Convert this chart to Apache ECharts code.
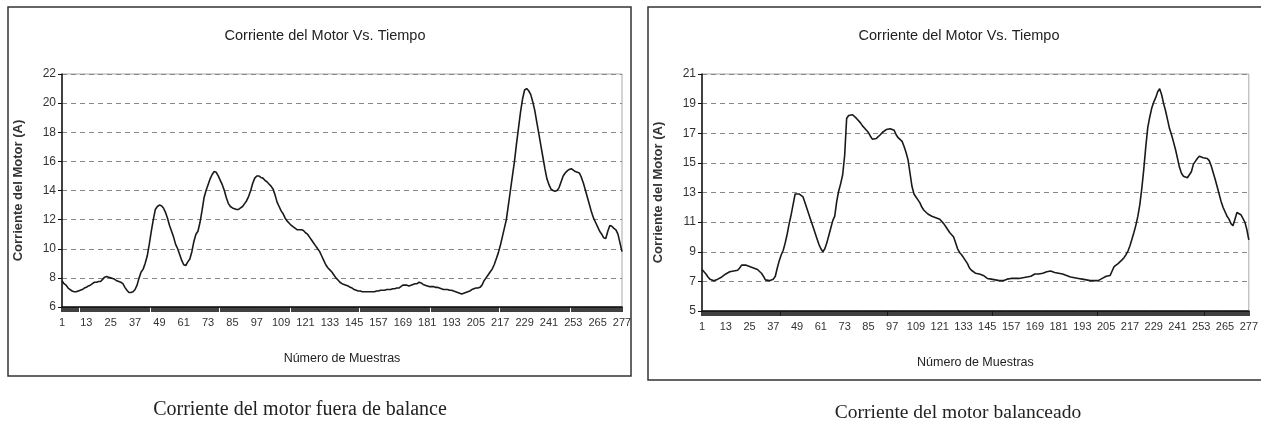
<!DOCTYPE html>
<html>
<head>
<meta charset="utf-8">
<script src="https://cdn.jsdelivr.net/npm/echarts@6/dist/echarts.min.js"></script>
<style>
html,body{margin:0;padding:0;background:#fff;}
#chart{width:1261px;height:427px;}
</style>
</head>
<body>
<div id="chart"></div>
<script>
// Sample numbers 1..277 (category labels)
const samples = [];
for (let i = 1; i <= 277; i++) samples.push(String(i));

const chartTitle = "Corriente del Motor Vs. Tiempo";
const xAxisName = "Número de Muestras";
const yAxisName = "Corriente del Motor (A)";
const captionLeft = "Corriente del motor fuera de balance";
const captionRight = "Corriente del motor balanceado";

// Motor current, unbalanced (A)
const currentUnbalanced = [
7.8,7.6,7.5,7.3,7.2,7.1,7.05,7.05,7.1,7.15,
7.2,7.3,7.35,7.45,7.5,7.6,7.7,7.7,7.75,7.75,
7.9,8.05,8.1,8.05,8.0,7.95,7.9,7.8,7.75,7.7,
7.6,7.35,7.15,7.0,7.0,7.05,7.2,7.5,8.0,8.4,
8.6,9.0,9.5,10.3,11.2,12.0,12.7,12.9,13.0,12.95,
12.8,12.5,12.1,11.6,11.2,10.8,10.3,10.0,9.6,9.2,
8.9,8.85,9.1,9.3,9.8,10.5,11.0,11.2,11.8,12.6,
13.5,14.0,14.4,14.8,15.1,15.3,15.25,15.0,14.7,14.4,
14.0,13.5,13.1,12.9,12.8,12.75,12.7,12.7,12.8,12.9,
13.1,13.3,13.6,14.0,14.5,14.85,15.0,15.0,14.9,14.85,
14.7,14.6,14.45,14.3,14.1,13.7,13.2,12.9,12.6,12.4,
12.1,11.9,11.75,11.6,11.5,11.4,11.3,11.3,11.3,11.25,
11.1,11.0,10.8,10.6,10.4,10.2,10.0,9.8,9.5,9.2,
8.9,8.7,8.55,8.4,8.2,8.0,7.85,7.7,7.6,7.55,
7.5,7.45,7.35,7.3,7.2,7.15,7.1,7.1,7.05,7.05,
7.05,7.05,7.05,7.05,7.05,7.1,7.1,7.15,7.15,7.15,
7.2,7.2,7.2,7.25,7.25,7.3,7.3,7.4,7.5,7.5,
7.5,7.45,7.5,7.55,7.6,7.6,7.7,7.65,7.55,7.5,
7.45,7.4,7.4,7.4,7.35,7.35,7.3,7.25,7.2,7.2,
7.2,7.15,7.15,7.1,7.05,7.0,6.95,6.9,6.95,7.0,
7.05,7.1,7.2,7.25,7.3,7.3,7.35,7.5,7.8,8.0,
8.2,8.4,8.6,8.9,9.3,9.7,10.2,10.8,11.4,12.0,
13.0,14.0,15.0,16.0,17.2,18.3,19.4,20.3,20.9,21.0,
20.85,20.6,20.1,19.5,18.7,17.9,17.1,16.3,15.5,14.8,
14.4,14.1,14.0,13.95,14.0,14.2,14.6,15.0,15.2,15.35,
15.45,15.5,15.4,15.3,15.25,15.2,14.9,14.5,14.0,13.5,
13.0,12.5,12.1,11.8,11.5,11.2,11.0,10.75,10.7,11.2,
11.6,11.55,11.4,11.3,11.0,10.4,9.8
];

// Motor current, balanced (A)
const currentBalanced = [
7.8,7.7,7.5,7.3,7.15,7.05,7.05,7.1,7.15,7.25,
7.3,7.4,7.5,7.6,7.65,7.7,7.7,7.7,7.75,7.9,
8.1,8.2,8.1,8.05,8.0,7.95,7.9,7.85,7.8,7.7,
7.55,7.35,7.1,7.05,7.05,7.1,7.15,7.35,7.9,8.4,
8.8,9.1,9.6,10.2,10.9,11.5,12.2,12.9,12.9,12.9,
12.85,12.7,12.3,11.9,11.5,11.1,10.7,10.3,9.9,9.5,
9.2,9.0,9.2,9.6,10.1,10.6,11.1,11.4,12.4,13.1,
13.6,14.2,15.5,18.0,18.2,18.25,18.25,18.2,18.0,17.9,
17.7,17.5,17.35,17.2,17.05,16.8,16.6,16.6,16.65,16.7,
16.9,17.05,17.15,17.25,17.3,17.3,17.25,17.2,16.9,16.7,
16.6,16.45,16.1,15.7,15.2,14.3,13.4,12.9,12.7,12.5,
12.3,12.0,11.8,11.7,11.55,11.45,11.4,11.35,11.3,11.25,
11.2,11.1,10.9,10.7,10.5,10.3,10.15,10.0,9.6,9.2,
8.95,8.8,8.6,8.4,8.2,7.9,7.75,7.65,7.55,7.5,
7.5,7.45,7.4,7.3,7.2,7.15,7.15,7.1,7.1,7.05,
7.05,7.05,7.05,7.1,7.15,7.2,7.2,7.2,7.2,7.2,
7.2,7.2,7.25,7.3,7.3,7.3,7.35,7.45,7.5,7.5,
7.5,7.55,7.55,7.6,7.65,7.7,7.7,7.65,7.6,7.55,
7.55,7.5,7.5,7.45,7.4,7.35,7.3,7.3,7.25,7.2,
7.2,7.15,7.15,7.1,7.1,7.05,7.05,7.05,7.05,7.05,
7.05,7.1,7.2,7.3,7.35,7.4,7.4,7.7,8.0,8.1,
8.2,8.3,8.45,8.6,8.8,9.05,9.4,9.85,10.3,10.8,
11.4,12.2,13.3,14.6,16.1,17.4,18.1,18.7,19.1,19.4,
19.8,20.0,19.6,19.0,18.5,17.9,17.3,16.9,16.4,15.9,
15.3,14.7,14.3,14.1,14.0,14.0,14.05,14.4,14.9,15.1,
15.3,15.45,15.5,15.35,15.3,15.3,15.15,14.8,14.35,13.9,
13.4,12.9,12.4,12.0,11.7,11.4,11.2,10.9,10.75,11.2,
11.65,11.6,11.5,11.4,11.0,10.5,9.8
];

const yRangeLeft = {min: 6, max: 22, interval: 2};
const yRangeRight = {min: 5, max: 21, interval: 2};

const FONT = "'Liberation Sans', Arial, sans-serif";

function xAxisCfg(gridIndex) {
  return {
    type: 'category', gridIndex, data: samples, boundaryGap: false,
    name: xAxisName, nameLocation: 'middle', nameGap: 45,
    nameTextStyle: {fontFamily: FONT, fontSize: 12.5, color: '#222'},
    axisLine: {lineStyle: {color: '#111', width: 1.5}},
    axisTick: {interval: 0, length: 5, lineStyle: {color: '#111', width: 1.6}},
    axisLabel: {interval: 11, fontFamily: FONT, fontSize: 11, color: '#333', margin: 10},
    splitLine: {show: false}
  };
}
function yAxisCfg(gridIndex, r) {
  return {
    type: 'value', gridIndex, min: r.min, max: r.max, interval: r.interval,
    name: yAxisName, nameLocation: 'middle', nameGap: 37, nameRotate: 90,
    nameTextStyle: {fontFamily: FONT, fontSize: 13, fontWeight: 'bold', color: '#333'},
    axisLine: {show: true, lineStyle: {color: '#111', width: 1.5}},
    axisTick: {show: true, length: 4, lineStyle: {color: '#111'}},
    axisLabel: {fontFamily: FONT, fontSize: 12, color: '#333', margin: 6},
    splitLine: {show: true, lineStyle: {color: '#888', type: [5, 4], width: 1}}
  };
}

const chart = echarts.init(document.getElementById('chart'), null, {renderer: 'canvas'});
chart.setOption({
  backgroundColor: '#fff',
  animation: false,
  title: [
    {text: chartTitle, left: 320, top: 23, textAlign: 'center',
     textStyle: {fontFamily: FONT, fontSize: 14.5, fontWeight: 'normal', color: '#222'}},
    {text: chartTitle, left: 954, top: 23, textAlign: 'center',
     textStyle: {fontFamily: FONT, fontSize: 14.5, fontWeight: 'normal', color: '#222'}}
  ],
  grid: [
    {left: 62, right: 639, top: 74, bottom: 120, show: true, borderColor: '#a8a8a8', borderWidth: 1, backgroundColor: 'transparent'},
    {left: 702, right: 8, top: 74, bottom: 116, show: true, borderColor: '#a8a8a8', borderWidth: 1, backgroundColor: 'transparent'}
  ],
  xAxis: [xAxisCfg(0), xAxisCfg(1)],
  yAxis: [yAxisCfg(0, yRangeLeft), yAxisCfg(1, yRangeRight)],
  series: [
    {type: 'line', xAxisIndex: 0, yAxisIndex: 0, data: currentUnbalanced, showSymbol: false,
     lineStyle: {color: '#1a1a1a', width: 1.6}},
    {type: 'line', xAxisIndex: 1, yAxisIndex: 1, data: currentBalanced, showSymbol: false,
     lineStyle: {color: '#1a1a1a', width: 1.6}}
  ],
  graphic: [
    {type: 'rect', silent: true, shape: {x: 8, y: 7, width: 623, height: 369},
     style: {fill: 'none', stroke: '#333', lineWidth: 1.5}},
    {type: 'rect', silent: true, shape: {x: 648, y: 7, width: 620, height: 373},
     style: {fill: 'none', stroke: '#333', lineWidth: 1.5}},
    {type: 'text', x: 300, y: 410, silent: true,
     style: {text: captionLeft, font: "20px 'Liberation Serif', 'Times New Roman', serif", fill: '#222',
             textAlign: 'center', textVerticalAlign: 'middle'}},
    {type: 'text', x: 958, y: 413, silent: true,
     style: {text: captionRight, font: "19.5px 'Liberation Serif', 'Times New Roman', serif", fill: '#222',
             textAlign: 'center', textVerticalAlign: 'middle'}}
  ]
});
</script>
</body>
</html>
